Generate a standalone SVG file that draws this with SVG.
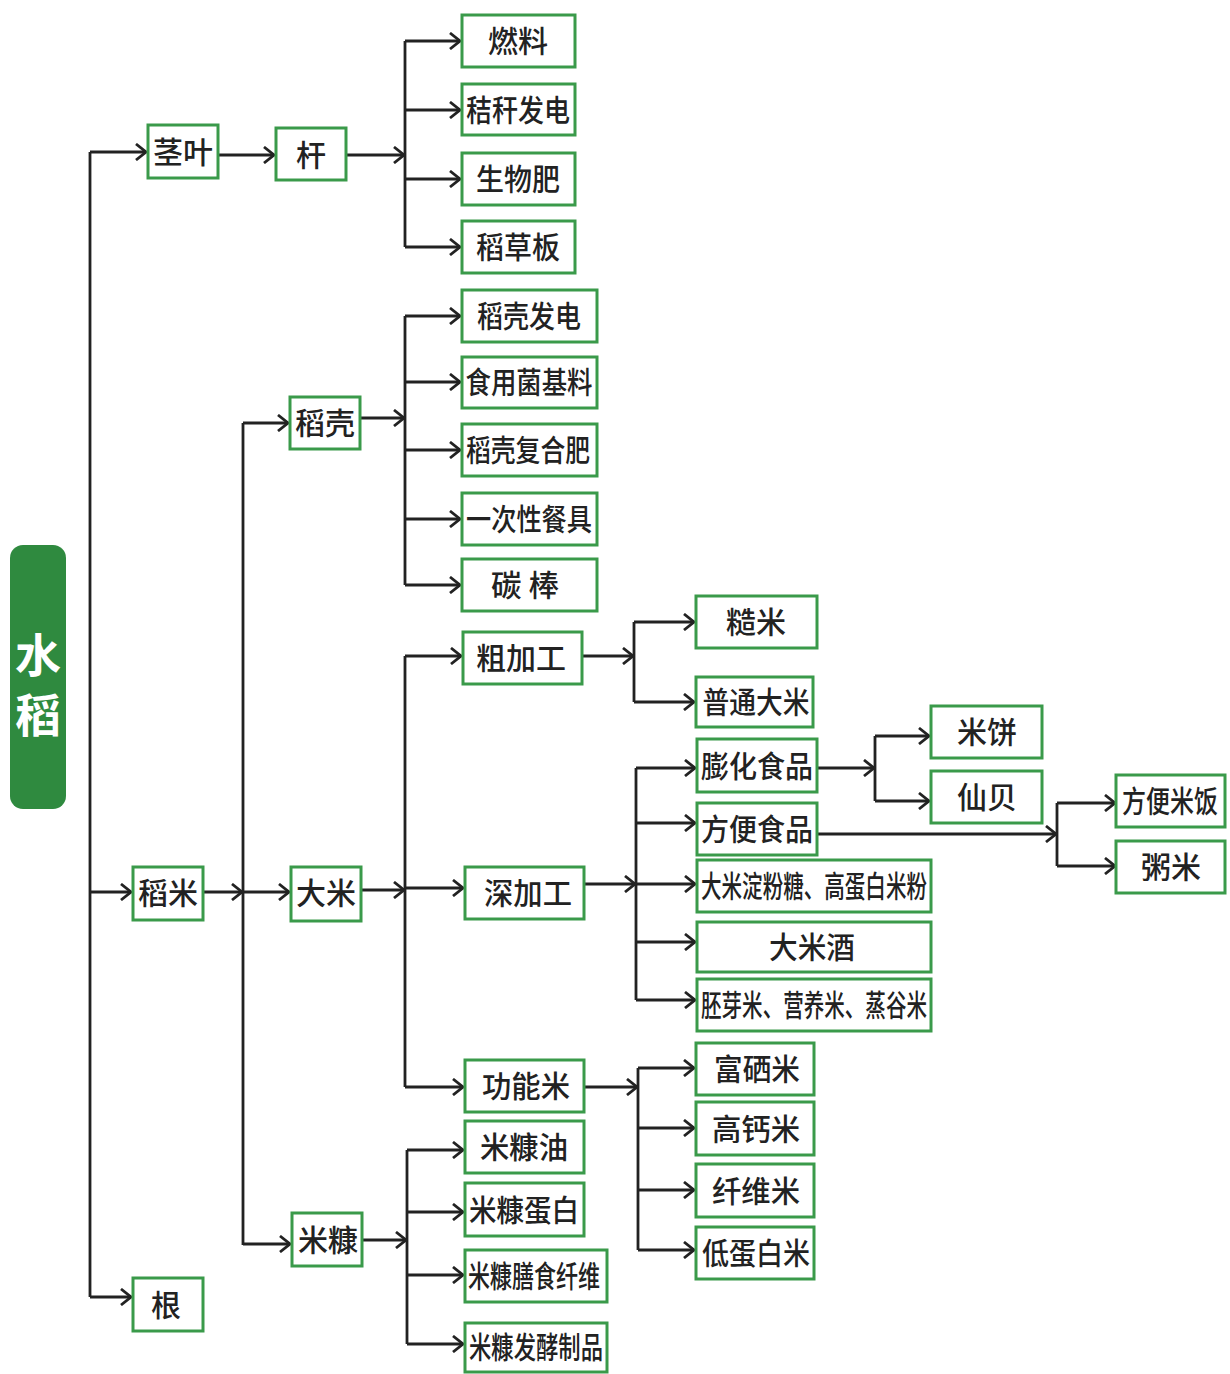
<svg xmlns="http://www.w3.org/2000/svg" width="1230" height="1374" viewBox="0 0 1230 1374">
<style>
.box{fill:#fff;stroke:#3a9a4a;stroke-width:3}
.t{font-family:"Noto Sans CJK SC","Noto Sans",sans-serif;font-size:30px;fill:#222;text-anchor:middle;font-weight:500}
.ln{fill:none;stroke:#222;stroke-width:2.8}
.ar{fill:none;stroke:#222;stroke-width:2.8;marker-end:url(#ah)}
.root{font-family:"Noto Sans CJK SC","Noto Sans",sans-serif;font-size:46px;fill:#fff;text-anchor:middle;font-weight:700}
</style>
<defs>
<marker id="ah" markerWidth="14" markerHeight="18" refX="12" refY="9" orient="auto" markerUnits="userSpaceOnUse">
<path d="M2,1 L12,9 L2,17" fill="none" stroke="#222" stroke-width="2.8"/>
</marker>
</defs>
<rect width="1230" height="1374" fill="#fff"/>

<g id="connectors">
<path class="ln" d="M90,152 V1297"/>
<path class="ar" d="M90,152 H146"/>
<path class="ar" d="M90,892 H131"/>
<path class="ar" d="M90,1297 H131"/>
<path class="ar" d="M218,155 H274"/>
<path class="ar" d="M346,155 H404"/>
<path class="ln" d="M405,41 V247"/>
<path class="ar" d="M405,41 H460"/>
<path class="ar" d="M405,110 H460"/>
<path class="ar" d="M405,179 H460"/>
<path class="ar" d="M405,247 H460"/>
<path class="ar" d="M203,892 H242"/>
<path class="ln" d="M243,423 V1245"/>
<path class="ar" d="M243,423 H288"/>
<path class="ar" d="M243,892 H289"/>
<path class="ar" d="M243,1244 H290"/>
<path class="ar" d="M360,418 H404"/>
<path class="ln" d="M405,316 V585"/>
<path class="ar" d="M405,316 H460"/>
<path class="ar" d="M405,382 H460"/>
<path class="ar" d="M405,450 H460"/>
<path class="ar" d="M405,519 H460"/>
<path class="ar" d="M405,585 H460"/>
<path class="ar" d="M361,890 H404"/>
<path class="ln" d="M405,656 V1087"/>
<path class="ar" d="M405,656 H461"/>
<path class="ar" d="M405,888 H463"/>
<path class="ar" d="M405,1087 H463"/>
<path class="ar" d="M582,656 H633"/>
<path class="ln" d="M634,622 V702"/>
<path class="ar" d="M634,622 H694"/>
<path class="ar" d="M634,702 H694"/>
<path class="ar" d="M584,884 H635"/>
<path class="ln" d="M636,768 V1000"/>
<path class="ar" d="M636,768 H695"/>
<path class="ar" d="M636,823 H695"/>
<path class="ar" d="M636,884 H695"/>
<path class="ar" d="M636,942 H695"/>
<path class="ar" d="M636,1000 H695"/>
<path class="ar" d="M817,768 H874"/>
<path class="ln" d="M875,736 V801"/>
<path class="ar" d="M875,736 H929"/>
<path class="ar" d="M875,801 H929"/>
<path class="ar" d="M817,834 H1056"/>
<path class="ln" d="M1057,803 V866"/>
<path class="ar" d="M1057,803 H1115"/>
<path class="ar" d="M1057,866 H1115"/>
<path class="ar" d="M584,1087 H637"/>
<path class="ln" d="M638,1068 V1250"/>
<path class="ar" d="M638,1068 H694"/>
<path class="ar" d="M638,1128 H694"/>
<path class="ar" d="M638,1190 H694"/>
<path class="ar" d="M638,1250 H694"/>
<path class="ar" d="M362,1240 H406"/>
<path class="ln" d="M407,1150 V1344"/>
<path class="ar" d="M407,1150 H463"/>
<path class="ar" d="M407,1212 H463"/>
<path class="ar" d="M407,1275 H463"/>
<path class="ar" d="M407,1344 H463"/>
</g>

<g id="n-shuidao"><rect x="10" y="545" width="56" height="264" rx="13" fill="#2f8a3f"/><text class="root" x="38" y="672">水</text><text class="root" x="38" y="732">稻</text></g>

<g id="n-jingye"><rect class="box" x="148" y="125" width="70" height="53"/><text class="t" x="183" y="163">茎叶</text></g>
<g id="n-gan"><rect class="box" x="276" y="128" width="70" height="52"/><text class="t" x="311" y="166">杆</text></g>
<g id="n-ranliao"><rect class="box" x="462" y="15" width="113" height="52"/><text class="t" x="518" y="52">燃料</text></g>
<g id="n-jiegan"><rect class="box" x="462" y="84" width="113" height="51"/><text class="t" x="518" y="121" textLength="104" lengthAdjust="spacingAndGlyphs">秸秆发电</text></g>
<g id="n-shengwufei"><rect class="box" x="462" y="153" width="113" height="52"/><text class="t" x="518" y="190" textLength="84" lengthAdjust="spacingAndGlyphs">生物肥</text></g>
<g id="n-daocaoban"><rect class="box" x="462" y="221" width="113" height="52"/><text class="t" x="518" y="258" textLength="84" lengthAdjust="spacingAndGlyphs">稻草板</text></g>

<g id="n-daoke"><rect class="box" x="290" y="397" width="70" height="52"/><text class="t" x="325" y="434">稻壳</text></g>
<g id="n-dkfadian"><rect class="box" x="462" y="290" width="135" height="52"/><text class="t" x="529" y="327" textLength="104" lengthAdjust="spacingAndGlyphs">稻壳发电</text></g>
<g id="n-shiyongjun"><rect class="box" x="462" y="357" width="135" height="51"/><text class="t" x="529" y="393" textLength="127" lengthAdjust="spacingAndGlyphs">食用菌基料</text></g>
<g id="n-dkfuhefei"><rect class="box" x="462" y="424" width="135" height="52"/><text class="t" x="528" y="461" textLength="124" lengthAdjust="spacingAndGlyphs">稻壳复合肥</text></g>
<g id="n-yicixing"><rect class="box" x="462" y="493" width="135" height="52"/><text class="t" x="529" y="530" textLength="126" lengthAdjust="spacingAndGlyphs">一次性餐具</text></g>
<g id="n-tanbang"><rect class="box" x="462" y="559" width="135" height="52"/><text class="t" x="525" y="596" textLength="68" lengthAdjust="spacingAndGlyphs">碳 棒</text></g>

<g id="n-daomi"><rect class="box" x="133" y="867" width="70" height="53"/><text class="t" x="168" y="904">稻米</text></g>
<g id="n-dami"><rect class="box" x="291" y="867" width="70" height="54"/><text class="t" x="326" y="904">大米</text></g>
<g id="n-mikang"><rect class="box" x="292" y="1213" width="70" height="53"/><text class="t" x="328" y="1251">米糠</text></g>
<g id="n-gen"><rect class="box" x="133" y="1278" width="70" height="53"/><text class="t" x="166" y="1316">根</text></g>

<g id="n-cujiagong"><rect class="box" x="463" y="632" width="119" height="52"/><text class="t" x="521" y="669" textLength="90" lengthAdjust="spacingAndGlyphs">粗加工</text></g>
<g id="n-shenjiagong"><rect class="box" x="465" y="867" width="119" height="52"/><text class="t" x="528" y="904" textLength="88" lengthAdjust="spacingAndGlyphs">深加工</text></g>
<g id="n-gongnengmi"><rect class="box" x="465" y="1060" width="119" height="52"/><text class="t" x="526" y="1097" textLength="88" lengthAdjust="spacingAndGlyphs">功能米</text></g>

<g id="n-caomi"><rect class="box" x="696" y="596" width="121" height="52"/><text class="t" x="756" y="633">糙米</text></g>
<g id="n-putong"><rect class="box" x="696" y="677" width="117" height="50"/><text class="t" x="756" y="713" textLength="107" lengthAdjust="spacingAndGlyphs">普通大米</text></g>

<g id="n-penghua"><rect class="box" x="697" y="739" width="120" height="53"/><text class="t" x="757" y="777" textLength="112" lengthAdjust="spacingAndGlyphs">膨化食品</text></g>
<g id="n-fangbian"><rect class="box" x="697" y="803" width="120" height="52"/><text class="t" x="757" y="840" textLength="112" lengthAdjust="spacingAndGlyphs">方便食品</text></g>
<g id="n-dianfen"><rect class="box" x="697" y="860" width="234" height="52"/><text class="t" x="814" y="897" textLength="226" lengthAdjust="spacingAndGlyphs">大米淀粉糖、高蛋白米粉</text></g>
<g id="n-mijiu"><rect class="box" x="697" y="922" width="234" height="50"/><text class="t" x="812" y="958" textLength="86" lengthAdjust="spacingAndGlyphs">大米酒</text></g>
<g id="n-peiya"><rect class="box" x="697" y="979" width="234" height="52"/><text class="t" x="814" y="1016" textLength="226" lengthAdjust="spacingAndGlyphs">胚芽米、营养米、蒸谷米</text></g>

<g id="n-mibing"><rect class="box" x="931" y="706" width="111" height="52"/><text class="t" x="987" y="743">米饼</text></g>
<g id="n-xianbei"><rect class="box" x="931" y="771" width="111" height="52"/><text class="t" x="987" y="808">仙贝</text></g>
<g id="n-fangbianmifan"><rect class="box" x="1116" y="775" width="109" height="52"/><text class="t" transform="translate(1170,812) scale(0.8,1)" x="0" y="0">方便米饭</text></g>
<g id="n-zhoumi"><rect class="box" x="1116" y="841" width="109" height="52"/><text class="t" x="1171" y="878">粥米</text></g>

<g id="n-fuxi"><rect class="box" x="696" y="1043" width="118" height="52"/><text class="t" x="757" y="1080" textLength="86" lengthAdjust="spacingAndGlyphs">富硒米</text></g>
<g id="n-gaogai"><rect class="box" x="696" y="1102" width="118" height="53"/><text class="t" x="756" y="1140" textLength="88" lengthAdjust="spacingAndGlyphs">高钙米</text></g>
<g id="n-xianwei"><rect class="box" x="696" y="1164" width="118" height="53"/><text class="t" x="756" y="1202" textLength="88" lengthAdjust="spacingAndGlyphs">纤维米</text></g>
<g id="n-didanbai"><rect class="box" x="696" y="1227" width="118" height="52"/><text class="t" x="756" y="1264" textLength="108" lengthAdjust="spacingAndGlyphs">低蛋白米</text></g>

<g id="n-mikangyou"><rect class="box" x="465" y="1121" width="119" height="52"/><text class="t" x="524" y="1158" textLength="88" lengthAdjust="spacingAndGlyphs">米糠油</text></g>
<g id="n-mkdanbai"><rect class="box" x="465" y="1183" width="119" height="53"/><text class="t" x="524" y="1221" textLength="110" lengthAdjust="spacingAndGlyphs">米糠蛋白</text></g>
<g id="n-mkshanshi"><rect class="box" x="465" y="1250" width="142" height="52"/><text class="t" x="534" y="1287" textLength="132" lengthAdjust="spacingAndGlyphs">米糠膳食纤维</text></g>
<g id="n-mkfajiao"><rect class="box" x="465" y="1323" width="142" height="49"/><text class="t" x="536" y="1358" textLength="134" lengthAdjust="spacingAndGlyphs">米糠发酵制品</text></g>
</svg>
